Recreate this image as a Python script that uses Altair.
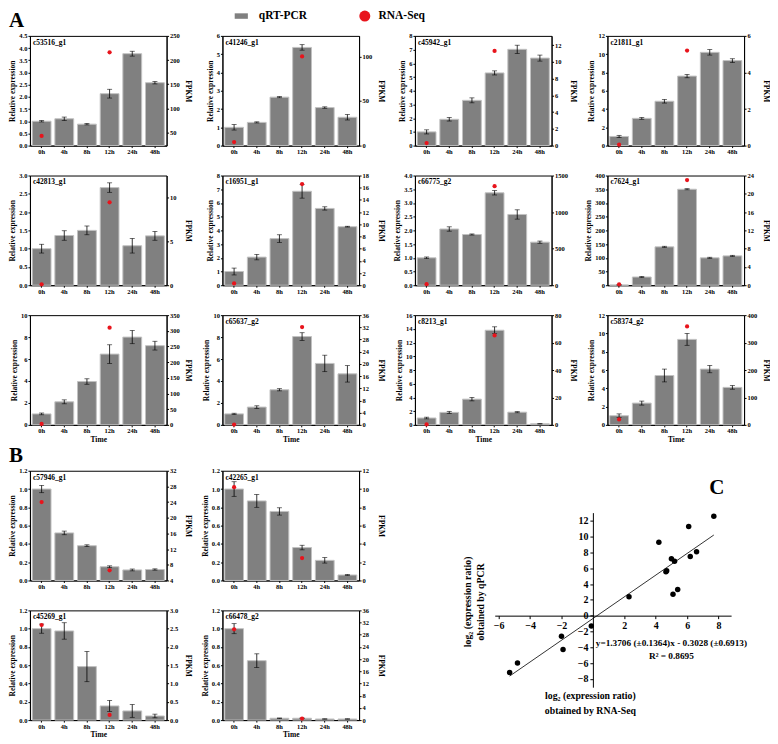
import altair as alt
import pandas as pd

SERIF = "Liberation Serif"
times = ["0h", "4h", "8h", "12h", "24h", "48h"]
series_names = ["qRT-PCR", "RNA-Seq"]
series_colors = ["#808080", "#e8141c"]

# ---------------- Panel A (qRT-PCR relative expression, error, RNA-Seq FPKM) ----------------
c53516_qpcr = [1.00, 1.10, 0.88, 2.13, 3.77, 2.58]
c53516_err = [0.03, 0.07, 0.03, 0.18, 0.10, 0.05]
c53516_fpkm = [43, None, None, 216, None, None]

c41246_qpcr = [1.00, 1.27, 2.65, 5.37, 2.08, 1.55]
c41246_err = [0.15, 0.03, 0.03, 0.15, 0.04, 0.15]
c41246_fpkm = [4, None, None, 100, None, None]

c45942_qpcr = [1.00, 1.92, 3.30, 5.30, 7.02, 6.38]
c45942_err = [0.15, 0.13, 0.18, 0.15, 0.30, 0.22]
c45942_fpkm = [0.3, None, None, 11.3, None, None]

c21811_qpcr = [1.00, 2.98, 4.85, 7.60, 10.20, 9.30]
c21811_err = [0.12, 0.10, 0.20, 0.18, 0.30, 0.20]
c21811_fpkm = [0.05, None, None, 5.2, None, None]

c42813_qpcr = [1.00, 1.36, 1.50, 2.67, 1.08, 1.35]
c42813_err = [0.12, 0.13, 0.12, 0.13, 0.20, 0.12]
c42813_fpkm = [0.1, None, None, 9.4, None, None]

c16951_qpcr = [1.00, 2.05, 3.40, 6.85, 5.60, 4.27]
c16951_err = [0.25, 0.20, 0.28, 0.50, 0.12, 0.03]
c16951_fpkm = [0.3, None, None, 16.6, None, None]

c66775_qpcr = [1.00, 2.05, 1.85, 3.37, 2.58, 1.57]
c66775_err = [0.03, 0.08, 0.02, 0.08, 0.17, 0.04]
c66775_fpkm = [15, None, None, 1355, None, None]

c7624_qpcr = [1.0, 30, 140, 350, 100, 107]
c7624_err = [0.5, 2, 2, 2, 2, 2]
c7624_fpkm = [0.2, None, None, 23, None, None]

row3a_qpcr = [1.00, 2.10, 3.95, 6.45, 8.00, 7.22]
row3a_err = [0.08, 0.18, 0.25, 0.85, 0.60, 0.40]
row3a_fpkm = [3, None, None, 310, None, None]

c65637_qpcr = [1.00, 1.62, 3.20, 8.05, 5.60, 4.65]
c65637_err = [0.06, 0.12, 0.10, 0.35, 0.75, 0.75]
c65637_fpkm = [0.1, None, None, 32.1, None, None]

c8213_qpcr = [1.00, 1.82, 3.75, 13.80, 1.85, 0.15]
c8213_err = [0.12, 0.15, 0.25, 0.50, 0.08, 0.03]
c8213_fpkm = [0.3, None, None, 65.2, None, None]

c58374_qpcr = [1.00, 2.38, 5.40, 9.35, 6.10, 4.10]
c58374_err = [0.20, 0.22, 0.70, 0.65, 0.40, 0.20]
c58374_fpkm = [20, None, None, 359, None, None]

# ---------------- Panel B ----------------
c57946_qpcr = [1.00, 0.52, 0.38, 0.15, 0.115, 0.12]
c57946_err = [0.04, 0.02, 0.01, 0.01, 0.01, 0.007]
c57946_fpkm = [24.0, None, None, 6.6, None, None]

c42265_qpcr = [1.00, 0.87, 0.755, 0.36, 0.22, 0.06]
c42265_err = [0.08, 0.07, 0.04, 0.025, 0.03, 0.005]
c42265_fpkm = [10.2, None, None, 2.45, None, None]

c45269_qpcr = [1.00, 0.975, 0.585, 0.155, 0.10, 0.045]
c45269_err = [0.05, 0.09, 0.165, 0.06, 0.07, 0.02]
c45269_fpkm = [2.6, None, None, 0.14, None, None]

c66478_qpcr = [1.00, 0.65, 0.02, 0.02, 0.012, 0.012]
c66478_err = [0.055, 0.075, 0.003, 0.003, 0.002, 0.002]
c66478_fpkm = [29.8, None, None, 0.5, None, None]

# ---------------- Panel C (log2 expression ratios) ----------------
c_rnaseq = [-5.3, -4.8, -2.0, -1.9, -0.1, 2.3, 4.2, 4.65, 4.7, 5.0, 5.2, 5.1, 5.4, 6.1, 6.2, 6.6, 7.7]
c_qpcr = [-7.2, -6.0, -2.6, -4.3, -1.3, 2.4, 9.3, 5.55, 5.7, 7.2, 6.9, 2.7, 3.3, 11.3, 7.5, 8.1, 12.6]
eq_label = "y=1.3706 (\u00b10.1364)x - 0.3028 (\u00b10.6913)"
r2_label = "R\u00b2 = 0.8695"


def ticks(lo, hi, step):
    n = int(round((hi - lo) / step))
    return [round(lo + i * step, 4) for i in range(n + 1)]


W, H = 137, 110
RECT_PATH = "M-1.9,-0.5H0.5V0.5H-1.9Z"

legend = alt.Legend(orient="none", legendX=210, legendY=-26, direction="horizontal",
                    title=None, symbolSize=121, symbolStrokeWidth=0,
                    labelFont=SERIF, labelFontWeight="bold", labelFontSize=11.5,
                    labelColor="black", labelOffset=8, columnPadding=52)
color_scale = alt.Scale(domain=series_names, range=series_colors)
shape_scale = alt.Scale(domain=series_names, range=[RECT_PATH, "circle"])


def panel(label, qpcr, err, fpkm, ldom, lticks, lfmt, rdom, rticks, rfmt,
          rtitle="FPKM", time_title=False, letter=None):
    df = pd.DataFrame({"time": times, "qpcr": qpcr,
                       "lo": [q - e for q, e in zip(qpcr, err)],
                       "hi": [q + e for q, e in zip(qpcr, err)]})
    xenc = alt.X("time:N", sort=times,
                 scale=alt.Scale(paddingInner=0.17, paddingOuter=0.1),
                 axis=alt.Axis(title="Time" if time_title else None, labelAngle=0,
                               tickSize=2, labelPadding=1, titlePadding=1))
    ytitle = "Relative expression"
    yscale = alt.Scale(domain=ldom, nice=False, zero=False)
    left_axis = alt.Axis(values=lticks, tickCount=len(lticks), format=lfmt,
                         titlePadding=2, labelOverlap=False, title=ytitle)
    base = alt.Chart(df)
    bars = base.mark_bar(color="#808080", stroke="#c2c2c2", strokeWidth=1).encode(
        x=xenc, y=alt.Y("qpcr:Q", scale=yscale, axis=left_axis))
    rules = base.mark_rule(color="black", strokeWidth=0.8).encode(
        x=xenc, y=alt.Y("lo:Q", scale=yscale, axis=left_axis), y2="hi:Q")
    caps = base.transform_fold(["lo", "hi"]).mark_tick(
        color="black", size=5, thickness=0.8).encode(
        x=xenc, y=alt.Y("value:Q", scale=yscale, axis=left_axis))
    layers = [bars, rules, caps]
    if label:
        layers.append(alt.Chart(pd.DataFrame({"g": [label]})).mark_text(
            align="left", baseline="top", font=SERIF, fontWeight="bold",
            fontSize=7.5, color="black").encode(
            x=alt.value(3), y=alt.value(3), text="g:N"))
    if letter:
        layers.append(alt.Chart(pd.DataFrame({"g": [letter]})).mark_text(
            align="left", baseline="top", font=SERIF, fontWeight="bold",
            fontSize=21, color="black").encode(
            x=alt.value(-21), y=alt.value(-26), text="g:N"))
    pts = pd.DataFrame({"time": times, "fpkm": fpkm, "series": "RNA-Seq"}).dropna()
    pts["fpkm"] = pts["fpkm"].astype(float)
    points = alt.Chart(pts).mark_point(filled=True, size=18, opacity=1).encode(
        x=xenc,
        y=alt.Y("fpkm:Q", scale=alt.Scale(domain=rdom, nice=False, zero=False),
                axis=alt.Axis(orient="right", title=rtitle, values=rticks,
                              tickCount=len(rticks), format=rfmt,
                              minExtent=15, maxExtent=15, titlePadding=2,
                              labelOverlap=False)),
        color=alt.Color("series:N", scale=color_scale, legend=legend),
        shape=alt.Shape("series:N", scale=shape_scale, legend=legend))
    return alt.layer(alt.layer(*layers), points).resolve_scale(
        y="independent").properties(width=W, height=H)


pA = [
    panel("c53516_g1", c53516_qpcr, c53516_err, c53516_fpkm, [0, 4.5], ticks(0, 4.5, 0.5), ".1f",
          [23, 250], ticks(50, 250, 50), "d", letter="A"),
    panel("c41246_g1", c41246_qpcr, c41246_err, c41246_fpkm, [0, 6], ticks(0, 6, 1), "d",
          [0, 123], ticks(0, 100, 50), "d"),
    panel("c45942_g1", c45942_qpcr, c45942_err, c45942_fpkm, [0, 8], ticks(0, 8, 1), "d",
          [0, 13.1], ticks(0, 12, 2), "d"),
    panel("c21811_g1", c21811_qpcr, c21811_err, c21811_fpkm, [0, 12], ticks(0, 12, 2), "d",
          [0, 6], ticks(0, 6, 2), "d"),
    panel("c42813_g1", c42813_qpcr, c42813_err, c42813_fpkm, [0, 3], ticks(0, 3, 0.5), ".1f",
          [0, 12.44], ticks(0, 10, 5), "d"),
    panel("c16951_g1", c16951_qpcr, c16951_err, c16951_fpkm, [0, 8], ticks(0, 8, 1), "d",
          [0, 18], ticks(0, 18, 2), "d"),
    panel("c66775_g2", c66775_qpcr, c66775_err, c66775_fpkm, [0, 4], ticks(0, 4, 0.5), ".1f",
          [0, 1500], ticks(0, 1500, 500), "d", rtitle=None),
    panel("c7624_g1", c7624_qpcr, c7624_err, c7624_fpkm, [0, 400], ticks(0, 400, 50), "d",
          [0, 24], ticks(0, 24, 4), "d"),
    panel(None, row3a_qpcr, row3a_err, row3a_fpkm, [0, 10], ticks(0, 10, 2), "d",
          [0, 350], ticks(0, 350, 50), "d", time_title=True),
    panel("c65637_g2", c65637_qpcr, c65637_err, c65637_fpkm, [0, 10], ticks(0, 10, 2), "d",
          [0, 36], ticks(0, 36, 4), "d", time_title=True),
    panel("c8213_g1", c8213_qpcr, c8213_err, c8213_fpkm, [0, 16], ticks(0, 16, 2), "d",
          [0, 80], ticks(0, 80, 20), "d", time_title=True),
    panel("c58374_g2", c58374_qpcr, c58374_err, c58374_fpkm, [0, 12], ticks(0, 12, 2), "d",
          [0, 400], ticks(0, 400, 100), "d", time_title=True),
]

pB = [
    panel("c57946_g1", c57946_qpcr, c57946_err, c57946_fpkm, [0, 1.2], ticks(0, 1.2, 0.2), ".1f",
          [4, 32], ticks(4, 32, 4), "d", letter="B"),
    panel("c42265_g1", c42265_qpcr, c42265_err, c42265_fpkm, [0, 1.2], ticks(0, 1.2, 0.2), ".1f",
          [0, 12], ticks(0, 12, 2), "d"),
    panel("c45269_g1", c45269_qpcr, c45269_err, c45269_fpkm, [0, 1.2], ticks(0, 1.2, 0.2), ".1f",
          [0, 3], ticks(0, 3, 0.5), ".1f", time_title=True),
    panel("c66478_g2", c66478_qpcr, c66478_err, c66478_fpkm, [0, 1.2], ticks(0, 1.2, 0.2), ".1f",
          [0, 36], ticks(0, 36, 4), "d", time_title=True),
]

# ---------------- Panel C chart ----------------
CW, CTOP = 237, 42
CH = CTOP + 175
cx_dom = [-6.25, 8.8]
cy_dom = [-9.06, 13.05]
y0_px = CTOP + (cy_dom[1] - 0) / (cy_dom[1] - cy_dom[0]) * (CH - CTOP)
x0_px = (0 - cx_dom[0]) / (cx_dom[1] - cx_dom[0]) * CW
cx_ticks = [-6, -4, -2, 2, 4, 6, 8]
cy_ticks = ticks(-8, 12, 2)

cdf = pd.DataFrame({"rna": c_rnaseq, "qpcr": c_qpcr})
cx = alt.X("rna:Q", scale=alt.Scale(domain=cx_dom, nice=False, zero=False),
           axis=alt.Axis(values=cx_ticks, tickCount=len(cx_ticks), format="d",
                         offset=-(CH - y0_px),
                         tickSize=3, labelFontSize=10, labelPadding=2, labelOverlap=False,
                         title=["log\u2082 (expression ratio)", "obtained by RNA-Seq"],
                         titleFontSize=9.8, titleX=x0_px - 3, titleY=75,
                         titleAlign="center", titleBaseline="top", titleLineHeight=15))
cy = alt.Y("qpcr:Q", scale=alt.Scale(domain=cy_dom, nice=False, zero=False, range=[CH, CTOP]),
           axis=alt.Axis(values=cy_ticks, tickCount=len(cy_ticks), format="d", offset=-x0_px,
                         tickSize=3, labelFontSize=10, labelPadding=2, labelOverlap=False,
                         title=["log\u2082 (expression ratio)", "obtained by qPCR"],
                         titleFontSize=9.8, titleX=-27 - x0_px, titleY=CTOP + 89,
                         titleAlign="center", titleBaseline="middle", titleLineHeight=13))
cbase = alt.Chart(cdf)
c_line = cbase.transform_regression("rna", "qpcr").mark_line(
    color="black", strokeWidth=0.8).encode(x=cx, y=cy)
c_pts = cbase.mark_circle(size=30, color="black", opacity=1).encode(x=cx, y=cy)
c_eq = alt.Chart(pd.DataFrame({"t": [eq_label]})).mark_text(
    font=SERIF, fontWeight="bold", fontSize=9.3, color="black").encode(
    x=alt.datum(5.0), y=alt.datum(-3.49), text="t:N")
c_r2 = alt.Chart(pd.DataFrame({"t": [r2_label]})).mark_text(
    font=SERIF, fontWeight="bold", fontSize=9.3, color="black").encode(
    x=alt.datum(5.0), y=alt.datum(-5.13), text="t:N")
c_letter = alt.Chart(pd.DataFrame({"t": ["C"]})).mark_text(
    font=SERIF, fontWeight="bold", fontSize=21, color="black", align="left",
    baseline="top").encode(x=alt.value(215), y=alt.value(6), text="t:N")
panelC = alt.layer(c_line, c_pts, c_eq, c_r2, c_letter).properties(
    width=CW, height=CH, view=alt.ViewBackground(strokeOpacity=0))

# ---------------- assemble ----------------
rowsA = [alt.hconcat(*pA[i:i + 4], spacing=56, bounds="flush") for i in (0, 4, 8)]
groupA = alt.vconcat(*rowsA, spacing=16)
colB = alt.vconcat(alt.hconcat(pB[0], pB[1], spacing=56, bounds="flush"),
                   alt.hconcat(pB[2], pB[3], spacing=56, bounds="flush"), spacing=16)
bottom = alt.hconcat(colB, panelC, spacing=77)
chart = alt.vconcat(groupA, bottom, spacing=0).properties(
    padding={"left": 0, "top": 0, "right": 0, "bottom": 0}
).configure_axis(
    labelFont=SERIF, titleFont=SERIF, labelFontWeight="bold", titleFontWeight="bold",
    labelFontSize=6.5, titleFontSize=7.5, labelColor="black", titleColor="black",
    domainColor="black", tickColor="black", grid=False, tickSize=2, labelPadding=1,
    labelOverlap=False
).configure_view(stroke="black", strokeWidth=1)

chart.save("out.html", embed_options={"renderer": "svg", "actions": False})
